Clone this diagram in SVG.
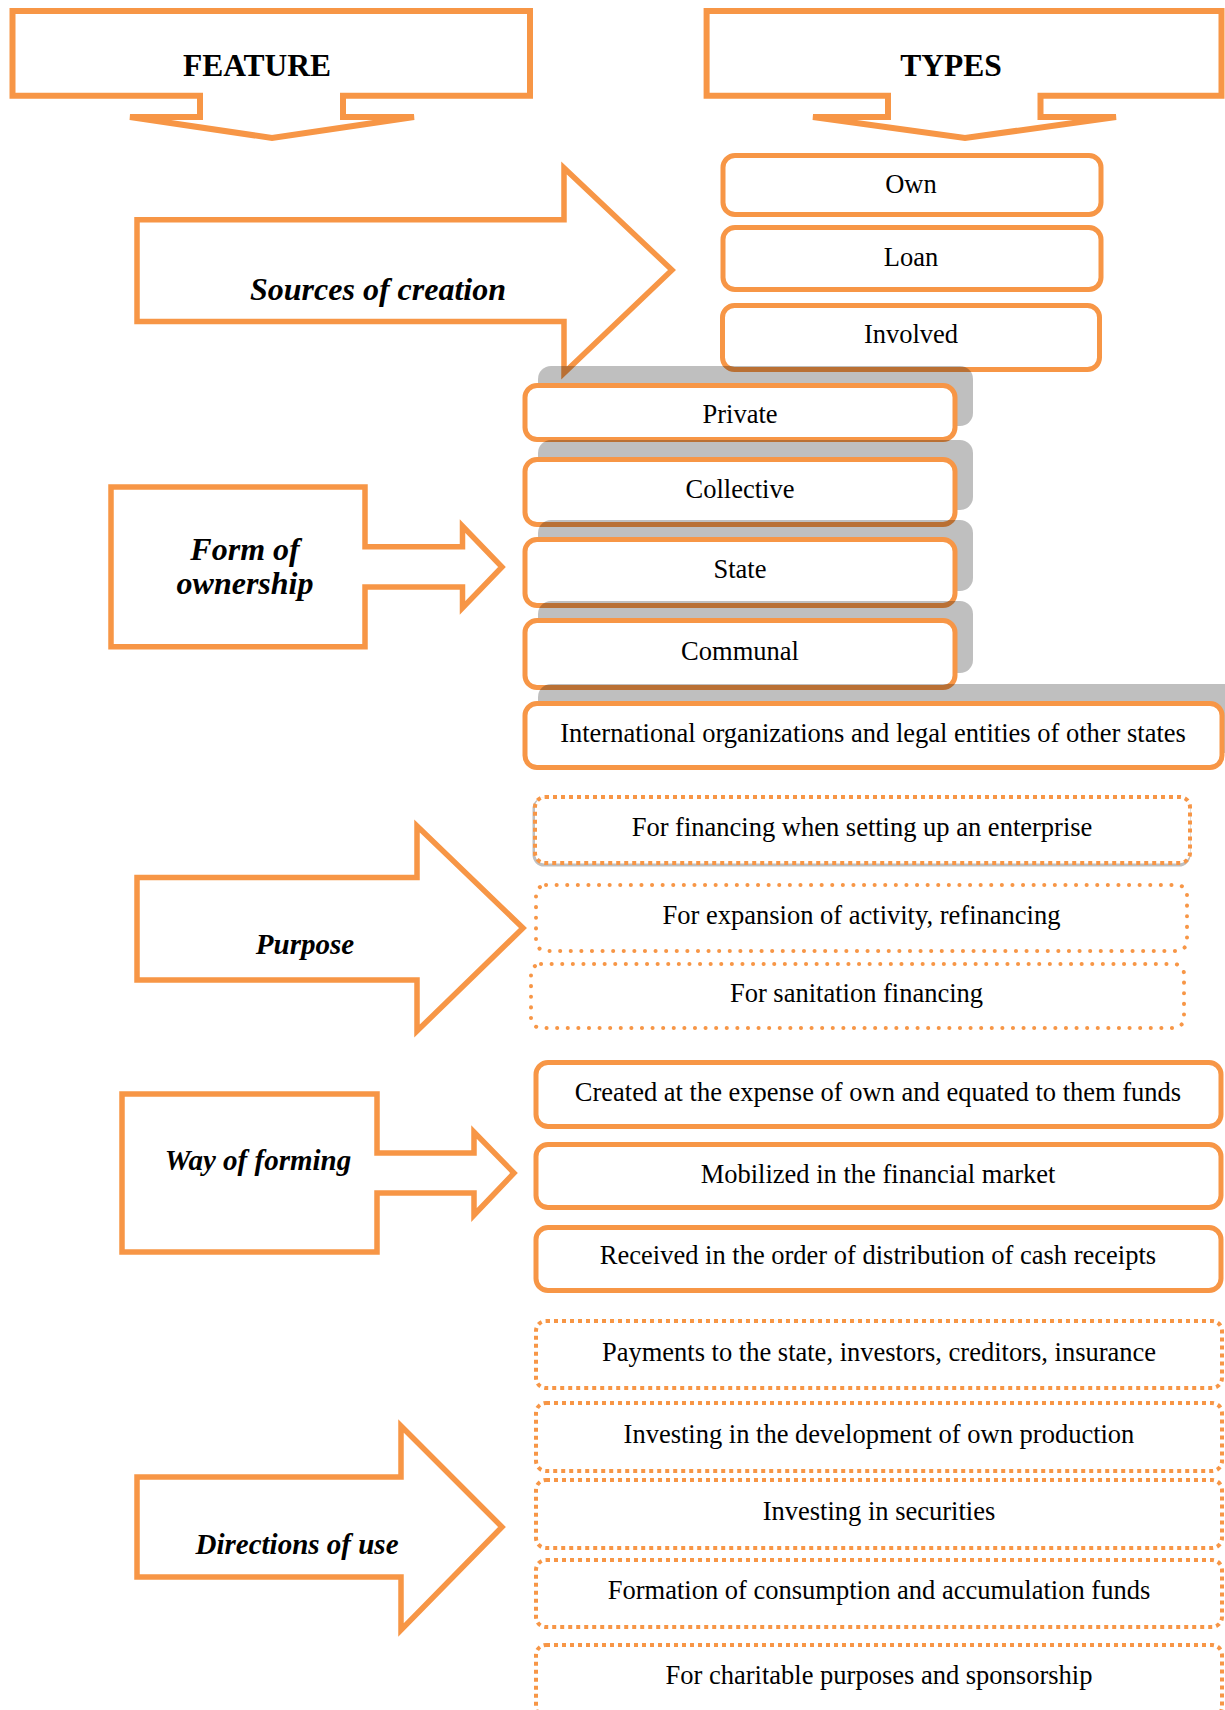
<svg xmlns="http://www.w3.org/2000/svg" width="1225" height="1710" viewBox="0 0 1225 1710">
<style>
.bg{fill:#ffffff}
.box{fill:#ffffff;stroke:#F79646;stroke-width:5}
.dot{fill:#ffffff;stroke:#F79646;stroke-width:4;stroke-dasharray:4 4}
.rdot{fill:#ffffff;stroke:#F79646;stroke-width:4;stroke-linecap:round;stroke-dasharray:0.1 10.5}
.shadow{fill:#000000;fill-opacity:0.25}
.arrow{fill:#ffffff;stroke:#F79646;stroke-width:5.5;stroke-linejoin:miter}
.harrow{fill:#ffffff;stroke:#F79646;stroke-width:6;stroke-linejoin:miter}
.t{font-family:"Liberation Serif","Times New Roman",serif;font-size:26.5px;text-anchor:middle;fill:#000000}
.hdr{font-family:"Liberation Serif","Times New Roman",serif;font-size:31.5px;font-weight:bold;text-anchor:middle;fill:#000000}
.lbl{font-family:"Liberation Serif","Times New Roman",serif;font-weight:bold;font-style:italic;text-anchor:middle;fill:#000000}
</style>
<rect class="bg" x="0" y="0" width="1225" height="1710"/>

<g id="feature-header">
<path class="harrow" d="M12.5 11 H530 V95.7 H343 V117 H414 L272 138 L130 117 H200 V95.7 H12.5 Z"/>
<text class="hdr" x="257" y="76">FEATURE</text>
</g>
<g id="types-header">
<path class="harrow" d="M706.6 11 H1221.5 V95.7 H1040.5 V117 H1116 L965 138 L813 117 H888 V95.7 H706.6 Z"/>
<text class="hdr" x="951" y="76">TYPES</text>
</g>

<g id="sources-of-creation">
<path class="arrow" d="M137 219.7 H564 V168 L672 270 L564 373 V321.5 H137 Z"/>
<text class="lbl" x="378" y="300" font-size="32">Sources of creation</text>
</g>
<g id="type-own">
<rect class="box" x="723" y="155.5" width="378" height="59" rx="12"/>
<text class="t" x="911" y="193">Own</text>
</g>
<g id="type-loan">
<rect class="box" x="723" y="227.5" width="378" height="62" rx="12"/>
<text class="t" x="911" y="266">Loan</text>
</g>
<g id="type-involved">
<rect class="box" x="722.5" y="305.5" width="377" height="64" rx="12"/>
<text class="t" x="911" y="343">Involved</text>
</g>

<g id="form-of-ownership">
<path class="arrow" d="M111 487 H365 V546.7 H462.5 V526 L502 567 L462.5 608 V587 H365 V646.7 H111 Z"/>
<text class="lbl" x="245" y="560" font-size="32">Form of</text>
<text class="lbl" x="245" y="594" font-size="32">ownership</text>
</g>
<g id="type-private">
<rect class="shadow" x="538" y="366" width="435" height="60" rx="13"/>
<rect class="box" x="525" y="385.5" width="430" height="54" rx="12"/>
<text class="t" x="740" y="423">Private</text>
</g>
<g id="type-collective">
<rect class="shadow" x="538" y="440" width="435" height="70" rx="13"/>
<rect class="box" x="525" y="459.5" width="430" height="65" rx="12"/>
<text class="t" x="740" y="498">Collective</text>
</g>
<g id="type-state">
<rect class="shadow" x="538" y="520" width="435" height="71" rx="13"/>
<rect class="box" x="525" y="539.5" width="430" height="66" rx="12"/>
<text class="t" x="740" y="578">State</text>
</g>
<g id="type-communal">
<rect class="shadow" x="538" y="601" width="435" height="72" rx="13"/>
<rect class="box" x="525" y="620.5" width="430" height="67" rx="12"/>
<text class="t" x="740" y="660">Communal</text>
</g>
<g id="type-international">
<rect class="shadow" x="538" y="684" width="720" height="69" rx="13"/>
<rect class="box" x="525" y="703.5" width="697" height="64" rx="12"/>
<text class="t" x="873" y="742">International organizations and legal entities of other states</text>
</g>

<g id="purpose">
<path class="arrow" d="M137 877.5 H417 V826 L523 928 L417 1031 V980 H137 Z"/>
<text class="lbl" x="305" y="954" font-size="29">Purpose</text>
</g>
<g id="purpose-setup">
<rect x="534" y="799" width="655" height="66" rx="10" fill="none" stroke="#BFBFBF" stroke-width="3"/>
<rect class="dot" x="535" y="797" width="655" height="66" rx="10"/>
<text class="t" x="862" y="836">For financing when setting up an enterprise</text>
</g>
<g id="purpose-expansion">
<rect class="rdot" x="536" y="885" width="651" height="66" rx="10"/>
<text class="t" x="861.5" y="924">For expansion of activity, refinancing</text>
</g>
<g id="purpose-sanitation">
<rect class="rdot" x="531" y="964" width="653" height="64" rx="10"/>
<text class="t" x="856.5" y="1002">For sanitation financing</text>
</g>

<g id="way-of-forming">
<path class="arrow" d="M122 1094 H377 V1153 H474 V1132 L514 1173 L474 1215 V1193 H377 V1252 H122 Z"/>
<text class="lbl" x="258" y="1170" font-size="29">Way of forming</text>
</g>
<g id="way-created">
<rect class="box" x="536" y="1062.5" width="685" height="64" rx="12"/>
<text class="t" x="878" y="1101">Created at the expense of own and equated to them funds</text>
</g>
<g id="way-mobilized">
<rect class="box" x="536" y="1144.5" width="685" height="63" rx="12"/>
<text class="t" x="878" y="1183">Mobilized in the financial market</text>
</g>
<g id="way-received">
<rect class="box" x="536" y="1227.5" width="685" height="63" rx="12"/>
<text class="t" x="878" y="1264">Received in the order of distribution of cash receipts</text>
</g>

<g id="directions-of-use">
<path class="arrow" d="M137 1477 H401 V1426 L502 1527 L401 1630 V1577 H137 Z"/>
<text class="lbl" x="297" y="1554" font-size="29">Directions of use</text>
</g>
<g id="use-payments">
<rect class="dot" x="536" y="1321" width="686" height="67" rx="10"/>
<text class="t" x="879" y="1361">Payments to the state, investors, creditors, insurance</text>
</g>
<g id="use-development">
<rect class="dot" x="536" y="1403" width="686" height="68" rx="10"/>
<text class="t" x="879" y="1443">Investing in the development of own production</text>
</g>
<g id="use-securities">
<rect class="dot" x="536" y="1480" width="686" height="68" rx="10"/>
<text class="t" x="879" y="1520">Investing in securities</text>
</g>
<g id="use-funds">
<rect class="dot" x="536" y="1560" width="686" height="67" rx="10"/>
<text class="t" x="879" y="1599">Formation of consumption and accumulation funds</text>
</g>
<g id="use-charitable">
<rect class="dot" x="536" y="1645" width="686" height="72" rx="10"/>
<text class="t" x="879" y="1684">For charitable purposes and sponsorship</text>
</g>

<g id="connectors"></g>
</svg>
